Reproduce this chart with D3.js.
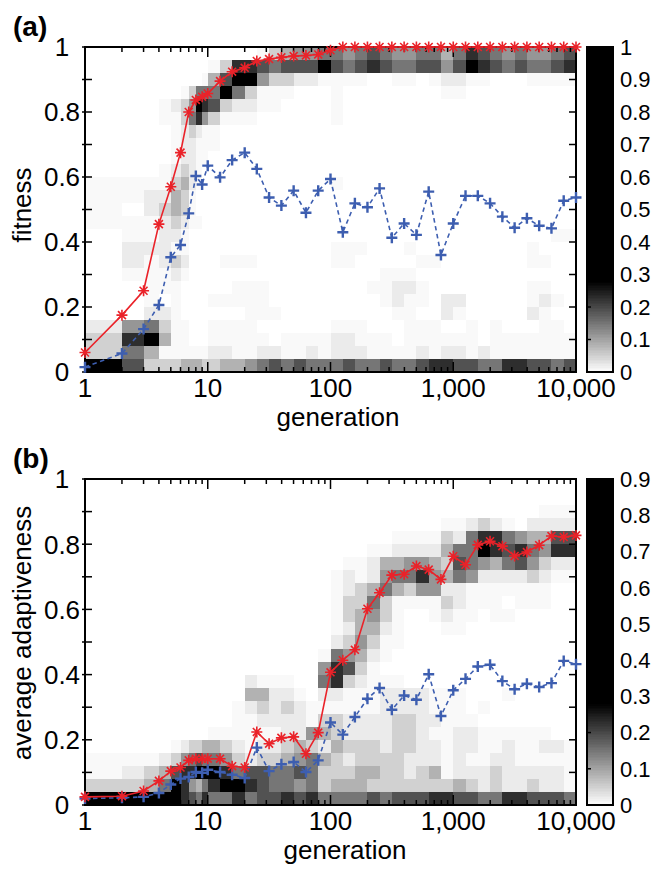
<!DOCTYPE html>
<html>
<head>
<meta charset="utf-8">
<script src="https://cdn.jsdelivr.net/npm/d3@7"></script>
<style>
  body { margin: 0; background: #fff; }
  text { font-family: 'Liberation Sans', Arial, sans-serif; fill: #000; }
</style>
</head>
<body>
<div id="chart"></div>
<script>
// generations sampled on the x axis (log spaced)
const generations = [1, 2, 3, 4, 5, 6, 7, 8, 9, 10,
  12.6, 15.8, 20, 25.1, 31.6, 39.8, 50.1, 63.1, 79.4, 100,
  126, 158, 200, 251, 316, 398, 501, 631, 794, 1000,
  1259, 1585, 1995, 2512, 3162, 3981, 5012, 6310, 7943, 10000]

// panel (a): fitness
const fitnessBest = [0.06, 0.175, 0.25, 0.455, 0.57, 0.675, 0.80, 0.837, 0.847, 0.857,
  0.895, 0.924, 0.936, 0.957, 0.963, 0.968, 0.972, 0.974, 0.977, 0.99,
  1, 1, 1, 1, 1, 1, 1, 1, 1, 1,
  1, 1, 1, 1, 1, 1, 1, 1, 1, 1]
const fitnessMean = [0.015, 0.057, 0.132, 0.206, 0.353, 0.391, 0.488, 0.603, 0.577, 0.635,
  0.599, 0.652, 0.675, 0.625, 0.537, 0.512, 0.558, 0.490, 0.558, 0.594,
  0.430, 0.519, 0.507, 0.565, 0.413, 0.457, 0.422, 0.555, 0.360, 0.457,
  0.542, 0.542, 0.519, 0.478, 0.444, 0.473, 0.450, 0.442, 0.527, 0.537]

// panel (b): average adaptiveness
const adaptBest = [0.025, 0.027, 0.043, 0.074, 0.104, 0.115, 0.137, 0.142, 0.142, 0.142,
  0.142, 0.119, 0.115, 0.224, 0.188, 0.206, 0.209, 0.157, 0.222, 0.407,
  0.444, 0.476, 0.602, 0.651, 0.705, 0.708, 0.733, 0.722, 0.692, 0.763,
  0.737, 0.798, 0.809, 0.794, 0.764, 0.776, 0.797, 0.825, 0.822, 0.827]
const adaptMean = [0.02, 0.022, 0.025, 0.037, 0.063, 0.081, 0.086, 0.101, 0.099, 0.108,
  0.101, 0.093, 0.083, 0.176, 0.104, 0.125, 0.132, 0.101, 0.137, 0.253,
  0.216, 0.270, 0.326, 0.359, 0.292, 0.336, 0.323, 0.401, 0.273, 0.352,
  0.387, 0.425, 0.430, 0.380, 0.355, 0.372, 0.362, 0.374, 0.442, 0.432]

// population density per cell, coded 0-9 (see densityLevels); rows run from top bin (0.96-1) down to 0-0.04,
// one column per interval between consecutive generations
const densityLevels = [0, 0.007, 0.022, 0.05, 0.085, 0.115, 0.15, 0.19, 0.23, 0.28]
const binSize = 0.04

const fitnessDensity = [
  '0000000000000134556' + '65676556646876565567',
  '0000000001388767779' + '76787667757987676678',
  '0000000014799533221' + '11100110122110001111',
  '0000013666963111000' + '10000000011000000000',
  '0001235987322110000' + '10000000000000000000',
  '0001136853111000000' + '10000000000000000000',
  '0000123211000000000' + '00000000000000000000',
  '0000122111000000000' + '00000000000000000000',
  '0000122110000000000' + '00000000000000000000',
  '0001232100000000000' + '00000000000000000000',
  '1111342100000000000' + '10000000000000000000',
  '1122431000000000000' + '00000000000000000000',
  '1023431000000000000' + '00000000000000000000',
  '1112321100000000000' + '00000000000000000000',
  '0112210000000000000' + '00000000000000000011',
  '0222110000000000000' + '11100010000000001000',
  '0212320000111000000' + '11000001100000001100',
  '0111210000000000000' + '00001110000000000000',
  '0011100000011100000' + '00011221000000001100',
  '0010100001111100000' + '00001211022000001210',
  '0022100000001110000' + '00000110021000002100',
  '2563110001111000000' + '11100011100101000110',
  '3894110001111101111' + '22111011111101111111',
  '3641111112211221121' + '22211112122121111111',
  '9733344433445676766' + '67667667887766887767'
]

const adaptDensity = [
  '0000000000000000000' + '00000000000000000000',
  '0000000000000000000' + '00000000000000000000',
  '0000000000000000000' + '00000000000000000111',
  '0000000000000000000' + '00000000011232102222',
  '0000000000000000000' + '00000111132688654477',
  '0000000000000000000' + '00011222246698786588',
  '0000000000000000000' + '01124455437654675322',
  '0000000000000000000' + '12125668546522223211',
  '0000000000000000000' + '12346435522111111100',
  '0000000000000000000' + '13363111132111011100',
  '0000000000000000000' + '13453100121101100000',
  '0000000000000000000' + '12442100011000000000',
  '0000000000000000000' + '23531100000000000000',
  '0000000000000000001' + '65421000000000000000',
  '0000000000000000005' + '87310000000000000000',
  '0000000000002111006' + '83211100000000000000',
  '0000000000004422102' + '21112222111000100000',
  '0000000000012323211' + '11112222111010000000',
  '0000000000011222213' + '32222332211100000000',
  '0000000001111112254' + '32222332112211111100',
  '0000123344321223432' + '43332332212211211221',
  '1112356766532334564' + '32333322212112211111',
  '1234788999867766763' + '33443323412223222221',
  '3346985468998766563' + '44433333334323223221',
  '9999987686686778786' + '66676777887766887776'
]

const xTicks = [1, 10, 100, 1000, 10000]
const yTicks = [0, 0.2, 0.4, 0.6, 0.8, 1]
const colorTicksA = [0, 0.1, 0.2, 0.3, 0.4, 0.5, 0.6, 0.7, 0.8, 0.9, 1]
const colorTicksB = [0, 0.1, 0.2, 0.3, 0.4, 0.5, 0.6, 0.7, 0.8, 0.9]

const width = 658
const height = 876
const plotLeft = 85
const plotRight = 576

const color = d3.scaleLinear().domain([0, 0.28]).range(['#ffffff', '#000000']).clamp(true)

const svg = d3
  .select('#chart')
  .append('svg')
  .attr('width', width)
  .attr('height', height)

const xPositionScale = d3.scaleLog().domain([1, 10000]).range([plotLeft, plotRight])

function drawPanel(p) {
  const yPositionScale = d3.scaleLinear().domain([0, 1]).range([p.bottom, p.top])
  const g = svg.append('g')

  // heatmap cells
  const cells = []
  p.density.forEach((row, r) => {
    const bin = p.density.length - 1 - r
    row.split('').forEach((c, i) => {
      cells.push({
        g0: generations[i],
        g1: generations[i + 1],
        v0: bin * binSize,
        v1: (bin + 1) * binSize,
        density: densityLevels[+c]
      })
    })
  })

  g.selectAll('.cell')
    .data(cells)
    .enter()
    .append('rect')
    .attr('class', 'cell')
    .attr('x', d => xPositionScale(d.g0))
    .attr('y', d => yPositionScale(d.v1))
    .attr('width', d => Math.min(xPositionScale(d.g1), plotRight) - xPositionScale(d.g0) + 0.6)
    .attr('height', d => yPositionScale(d.v0) - yPositionScale(d.v1) + 0.6)
    .attr('fill', d => color(d.density))
    .attr('shape-rendering', 'crispEdges')

  // frame
  g.append('rect')
    .attr('x', plotLeft)
    .attr('y', p.top)
    .attr('width', plotRight - plotLeft)
    .attr('height', p.bottom - p.top)
    .attr('fill', 'none')
    .attr('stroke', '#000')
    .attr('stroke-width', 2)

  // x ticks, inside on top and bottom
  const minor = []
  for (let k = 0; k < 4; k++) {
    for (let m = 2; m < 10; m++) minor.push(m * Math.pow(10, k))
  }
  const xt = xTicks.map(v => ({ v, len: 10 })).concat(minor.map(v => ({ v, len: 5 })))
  g.selectAll('.xtick-b')
    .data(xt)
    .enter()
    .append('line')
    .attr('x1', d => xPositionScale(d.v))
    .attr('x2', d => xPositionScale(d.v))
    .attr('y1', p.bottom)
    .attr('y2', d => p.bottom - d.len)
    .attr('stroke', '#000')
    .attr('stroke-width', 1.5)
  g.selectAll('.xtick-t')
    .data(xt)
    .enter()
    .append('line')
    .attr('x1', d => xPositionScale(d.v))
    .attr('x2', d => xPositionScale(d.v))
    .attr('y1', p.top)
    .attr('y2', d => p.top + d.len)
    .attr('stroke', '#000')
    .attr('stroke-width', 1.5)

  // y ticks every 0.1
  const yt = d3.range(0, 11).map(i => i / 10)
  g.selectAll('.ytick-l')
    .data(yt)
    .enter()
    .append('line')
    .attr('x1', plotLeft - 3)
    .attr('x2', plotLeft + 7)
    .attr('y1', d => yPositionScale(d))
    .attr('y2', d => yPositionScale(d))
    .attr('stroke', '#000')
    .attr('stroke-width', 1.5)
  g.selectAll('.ytick-r')
    .data(yt)
    .enter()
    .append('line')
    .attr('x1', plotRight - 7)
    .attr('x2', plotRight)
    .attr('y1', d => yPositionScale(d))
    .attr('y2', d => yPositionScale(d))
    .attr('stroke', '#000')
    .attr('stroke-width', 1.5)

  // tick labels
  g.selectAll('.xlabel')
    .data(xTicks)
    .enter()
    .append('text')
    .attr('x', d => xPositionScale(d))
    .attr('y', p.bottom + 25)
    .attr('text-anchor', 'middle')
    .attr('font-size', 26)
    .text(d3.format(','))

  g.selectAll('.ylabel')
    .data(yTicks)
    .enter()
    .append('text')
    .attr('x', 62)
    .attr('y', d => yPositionScale(d))
    .attr('dy', '0.36em')
    .attr('text-anchor', 'middle')
    .attr('font-size', 26)
    .text(d => d3.format('~g')(d))

  // lines
  const seriesLine = d3.line()
    .x((d, i) => xPositionScale(generations[i]))
    .y(d => yPositionScale(d))

  g.append('path')
    .datum(p.mean)
    .attr('d', seriesLine)
    .attr('fill', 'none')
    .attr('stroke', '#3d5eb0')
    .attr('stroke-width', 1.6)
    .attr('stroke-dasharray', '4.5 3.5')

  g.append('path')
    .datum(p.best)
    .attr('d', seriesLine)
    .attr('fill', 'none')
    .attr('stroke', '#ea2229')
    .attr('stroke-width', 1.6)

  const r = 5.5
  const a = r * 0.72
  const asterisk = `M0,${-r}L0,${r}M${-r},0L${r},0M${-a},${-a}L${a},${a}M${-a},${a}L${a},${-a}`
  const plus = `M0,${-r}L0,${r}M${-r},0L${r},0`

  g.selectAll('.mean-marker')
    .data(p.mean)
    .enter()
    .append('path')
    .attr('transform', (d, i) => `translate(${xPositionScale(generations[i])},${yPositionScale(d)})`)
    .attr('d', plus)
    .attr('stroke', '#3d5eb0')
    .attr('stroke-width', 2.4)

  g.selectAll('.best-marker')
    .data(p.best)
    .enter()
    .append('path')
    .attr('transform', (d, i) => `translate(${xPositionScale(generations[i])},${yPositionScale(d)})`)
    .attr('d', asterisk)
    .attr('stroke', '#ea2229')
    .attr('stroke-width', 1.6)

  // axis titles
  g.append('text')
    .attr('x', p.xTitleX)
    .attr('y', p.bottom + 54)
    .attr('text-anchor', 'middle')
    .attr('font-size', 26)
    .text('generation')

  g.append('text')
    .attr('transform', `translate(31,${p.yTitleY}) rotate(-90)`)
    .attr('text-anchor', 'middle')
    .attr('font-size', 26)
    .text(p.yTitle)

  g.append('text')
    .attr('x', 13)
    .attr('y', p.top - 11)
    .attr('font-size', 28)
    .attr('font-weight', 'bold')
    .text(p.tag)

  // colorbar
  const cb = d3.scaleLinear().domain([0, p.cbMax]).range([p.bottom, p.top])
  const steps = d3.range(0, 200).map(i => (i / 200) * p.cbMax)
  const step = p.cbMax / 200
  g.selectAll('.cb')
    .data(steps)
    .enter()
    .append('rect')
    .attr('x', 587)
    .attr('width', 26)
    .attr('y', d => cb(d + step))
    .attr('height', d => cb(d) - cb(d + step) + 0.5)
    .attr('fill', d => color(d + step / 2))
    .attr('shape-rendering', 'crispEdges')

  g.append('rect')
    .attr('x', 587)
    .attr('y', p.top)
    .attr('width', 26)
    .attr('height', p.bottom - p.top)
    .attr('fill', 'none')
    .attr('stroke', '#000')
    .attr('stroke-width', 2)

  g.selectAll('.cbtick')
    .data(p.cbTicks)
    .enter()
    .append('line')
    .attr('x1', 587)
    .attr('x2', 591)
    .attr('y1', d => cb(d))
    .attr('y2', d => cb(d))
    .attr('stroke', '#000')
    .attr('stroke-width', 1.5)

  g.selectAll('.cblabel')
    .data(p.cbTicks)
    .enter()
    .append('text')
    .attr('x', 620)
    .attr('y', d => cb(d))
    .attr('dy', '0.36em')
    .attr('font-size', 22)
    .text(d => d3.format('~g')(d))
}

drawPanel({
  top: 47,
  bottom: 372,
  density: fitnessDensity,
  best: fitnessBest,
  mean: fitnessMean,
  yTitle: 'fitness',
  yTitleY: 205,
  xTitleX: 338,
  tag: '(a)',
  cbMax: 1,
  cbTicks: colorTicksA
})

drawPanel({
  top: 479,
  bottom: 805,
  density: adaptDensity,
  best: adaptBest,
  mean: adaptMean,
  yTitle: 'average adaptiveness',
  yTitleY: 633,
  xTitleX: 345,
  tag: '(b)',
  cbMax: 0.9,
  cbTicks: colorTicksB
})
</script>
</body>
</html>
